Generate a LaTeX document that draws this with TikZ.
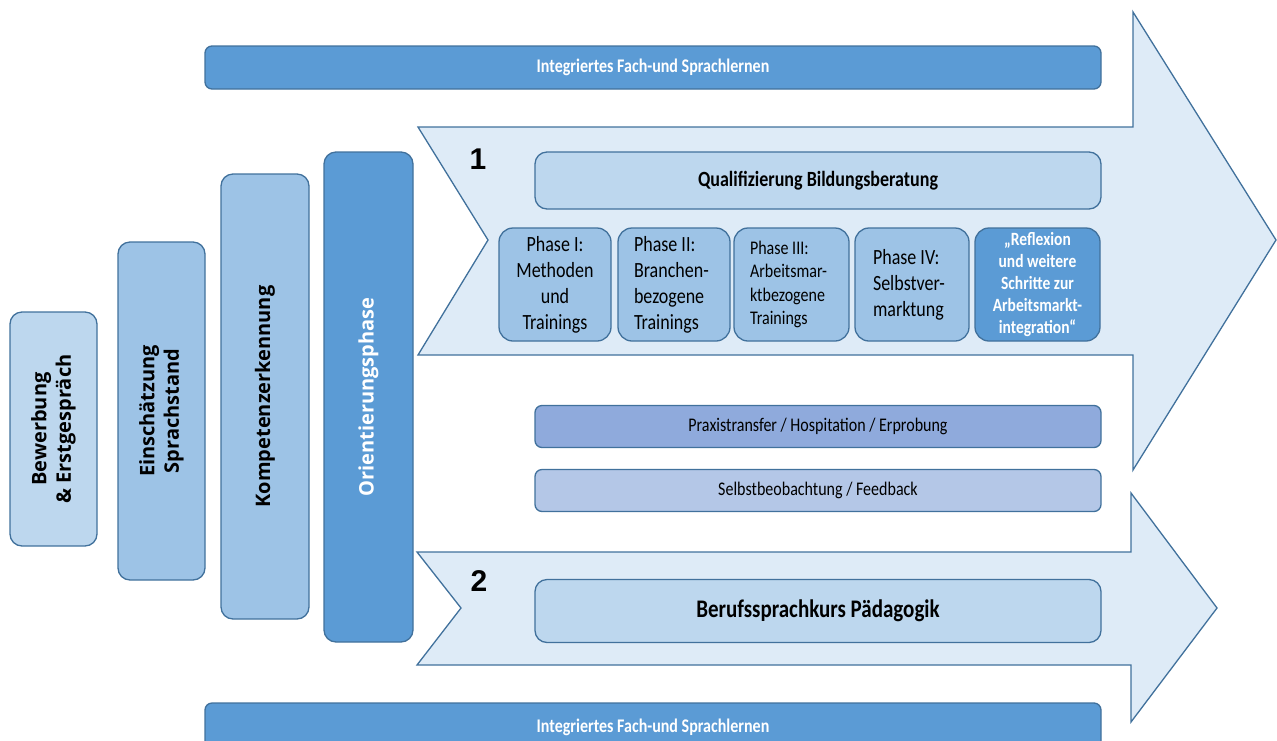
\documentclass[tikz,border=0pt]{standalone}
\usepackage{fontspec}
\setmainfont{Carlito}[FakeStretch=0.83]
\newfontfamily\osans{Open Sans}
\newfontfamily\numfont{Liberation Sans}
\definecolor{dblue}{HTML}{5B9BD5}
\definecolor{mblue}{HTML}{9DC3E6}
\definecolor{lblue}{HTML}{BDD7EE}
\definecolor{afill}{HTML}{DEEBF7}
\definecolor{pblue}{HTML}{8FAADC}
\definecolor{sblue}{HTML}{B4C7E7}
\definecolor{bord}{HTML}{41719C}
\begin{document}
\begin{tikzpicture}[x=1pt,y=-1pt,
  arrowshape/.style={draw=bord, fill=afill, line width=1.3pt, line join=miter},
  rbox/.style={draw=bord, line width=1.3pt, rounded corners=12pt, inner sep=0pt, align=center},
  bar/.style={rbox, rounded corners=7pt},
  vbox/.style={rbox, rotate=90, font={\osans\bfseries\fontsize{20}{24.5}\selectfont}},
  phase/.style={rbox, rounded corners=14pt, fill=mblue, minimum height=113pt, font={\fontsize{21.7}{26}\selectfont}},
  num/.style={font={\numfont\bfseries\fontsize{30}{30}\selectfont}, inner sep=0pt}
]
\useasboundingbox (0,0) rectangle (1277,740);
\clip (0,0) rectangle (1277,740);

% big arrows
\draw[arrowshape] (418,127) -- (1133,127) -- (1133,12) -- (1276,240) -- (1133,470) -- (1133,355) -- (418,355) -- (488,240) -- cycle;
\draw[arrowshape] (417,552) -- (1131,552) -- (1131,493) -- (1217,608) -- (1131,722) -- (1131,665) -- (417,665) -- (461,608) -- cycle;

% bars
\node[bar, fill=dblue, text=white, minimum width=896pt, minimum height=43pt, font={\bfseries\fontsize{19.3}{21}\selectfont}] (top) at (653,67.5) {Integriertes Fach-und Sprachlernen};
\node[bar, fill=dblue, text=white, minimum width=896pt, minimum height=48pt, font={\bfseries\fontsize{19.3}{21}\selectfont}] (bottom) at (653,727) {Integriertes Fach-und Sprachlernen};

% left vertical boxes
\node[vbox, fill=lblue, minimum width=234pt, minimum height=87pt] (bew) at (53.5,429) {Bewerbung\\ \& Erstgespräch};
\node[vbox, fill=mblue, minimum width=338pt, minimum height=87pt] (ein) at (161.5,411) {Einschätzung\\Sprachstand};
\node[vbox, fill=mblue, minimum width=445pt, minimum height=88pt] (kom) at (265,396.5) {Kompetenzerkennung};
\node[vbox, fill=dblue, text=white, minimum width=490pt, minimum height=89pt] (ori) at (368.5,397) {Orientierungsphase};

% numbers
\node[num] (n1) at (478,159) {1};
\node[num] (n2) at (479,581) {2};

% track 1
\node[rbox, fill=lblue, minimum width=566pt, minimum height=57pt, font={\bfseries\fontsize{21.7}{24}\selectfont}] (qual) at (818,180.5) {Qualifizierung Bildungsberatung};
\node[phase, minimum width=112pt] (p1) at (555,284.5) {Phase I:\\Methoden\\und\\Trainings};
\node[phase, minimum width=112pt, text width=80pt, align=flush left] (p2) at (674,284.5) {Phase II:\\Branchen-\\bezogene\\Trainings};
\node[phase, minimum width=115pt, text width=83pt, align=flush left, font={\fontsize{19.3}{23.5}\selectfont}] (p3) at (791.5,284.5) {Phase III:\\Arbeitsmar-\\ktbezogene\\Trainings};
\node[phase, minimum width=114pt, text width=78pt, align=flush left] (p4) at (912,284.5) {Phase IV:\\Selbstver-\\marktung};
\node[phase, minimum width=125pt, fill=dblue, text=white, font={\bfseries\fontsize{18.7}{22}\selectfont}] (p5) at (1037.5,284.5) {„Reflexion\\und weitere\\Schritte zur\\Arbeitsmarkt-\\integration“};

% middle bars
\node[bar, fill=pblue, minimum width=566pt, minimum height=42pt, font={\fontsize{19.3}{21}\selectfont}] (prax) at (818,426.5) {Praxistransfer / Hospitation / Erprobung};
\node[bar, fill=sblue, minimum width=566pt, minimum height=42pt, font={\fontsize{19.3}{21}\selectfont}] (selb) at (818,490.5) {Selbstbeobachtung / Feedback};

% track 2
\node[rbox, fill=lblue, minimum width=566pt, minimum height=63pt, font={\bfseries\fontsize{25.3}{28}\selectfont}] (beruf) at (818,611) {Berufssprachkurs Pädagogik};
\end{tikzpicture}
\end{document}
